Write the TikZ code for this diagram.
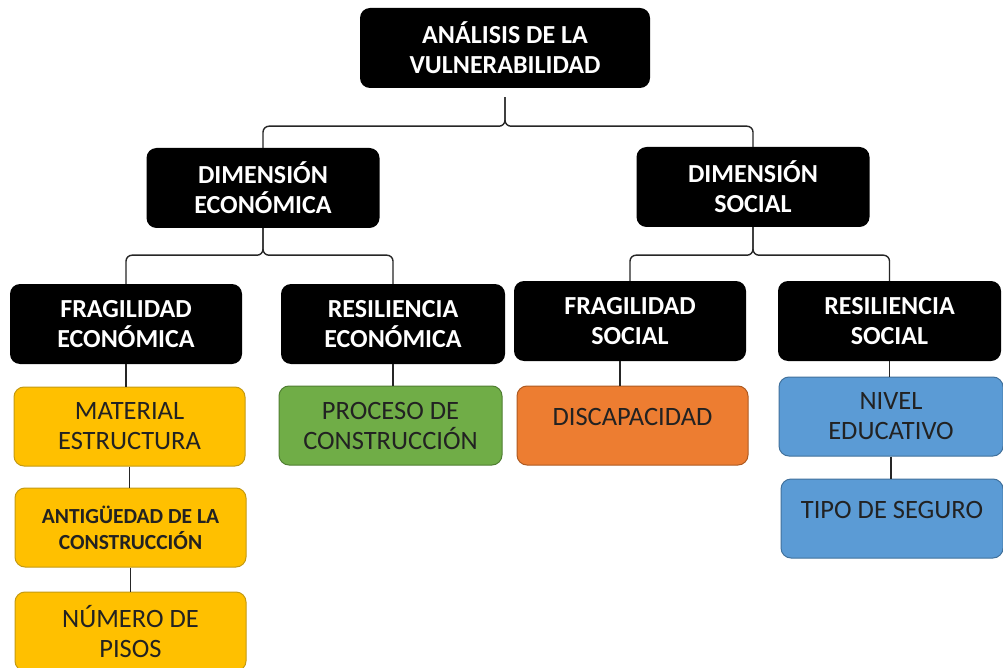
\documentclass[tikz,border=0pt]{standalone}
\usepackage{fontspec}
\setmainfont{Carlito}
\usepackage{tikz}
\usepackage{xcolor}
\definecolor{amarillo}{HTML}{FFC000}
\definecolor{amarilloB}{HTML}{C49A12}
\definecolor{verde}{HTML}{70AD47}
\definecolor{verdeB}{HTML}{507E32}
\definecolor{naranja}{HTML}{ED7D31}
\definecolor{naranjaB}{HTML}{AE5A21}
\definecolor{azul}{HTML}{5B9BD5}
\definecolor{azulB}{HTML}{41719C}
\definecolor{texto}{HTML}{222222}
\newcommand{\llave}[3]{%
  \draw[conector,rounded corners=6pt] (#1) -- ++(0,#3) -| (#2.north);}

\begin{document}
\begin{tikzpicture}[x=1pt,y=-1pt,
  negro/.style={fill=black,text=white,font=\bfseries\fontsize{26}{30}\selectfont,
    rounded corners=10pt,minimum width=232pt,minimum height=80pt,align=center,inner sep=0pt},
  caja/.style={rounded corners=10pt,minimum width=231pt,minimum height=79pt,align=center,
    inner sep=0pt,text=texto,font=\fontsize{26.5}{30}\selectfont,line width=1pt},
  conector/.style={line width=1.4pt,draw=black!85}]
  \useasboundingbox[fill=white] (0,0) rectangle (1003,668);
  % black boxes
  \node[negro,minimum width=290pt] (raiz) at (505,48) {ANÁLISIS DE LA\\VULNERABILIDAD};
  \node[negro,minimum width=233pt] (dimE) at (263,188) {DIMENSIÓN\\ECONÓMICA};
  \node[negro,minimum width=233pt] (dimS) at (753,187) {DIMENSIÓN\\SOCIAL};
  \node[negro] (fragE) at (126,324) {FRAGILIDAD\\ECONÓMICA};
  \node[negro,minimum width=224pt] (resE) at (393,324) {RESILIENCIA\\ECONÓMICA};
  \node[negro] (fragS) at (630,321) {FRAGILIDAD\\SOCIAL};
  \node[negro,minimum width=223pt] (resS) at (889.5,321) {RESILIENCIA\\SOCIAL};
  % coloured boxes
  \node[caja,fill=amarillo,draw=amarilloB] (mat) at (129.5,426.5) {MATERIAL\\ESTRUCTURA};
  \node[caja,fill=amarillo,draw=amarilloB,font=\bfseries\fontsize{21.5}{26}\selectfont] (ant) at (130.5,527.5) {ANTIGÜEDAD DE LA\\CONSTRUCCIÓN};
  \node[caja,fill=amarillo,draw=amarilloB] (num) at (130.5,631.5) {NÚMERO DE\\PISOS};
  \node[caja,fill=verde,draw=verdeB,minimum width=223pt] (proc) at (390.5,425.5) {PROCESO DE\\CONSTRUCCIÓN};
  \node[caja,fill=naranja,draw=naranjaB] (disc) at (632.5,425.5) {DISCAPACIDAD\\[-12pt]~};
  \node[caja,fill=azul,draw=azulB,minimum width=224pt] (niv) at (891,416.5) {NIVEL\\EDUCATIVO};
  \node[caja,fill=azul,draw=azulB,minimum width=222pt] (tipo) at (892,518.5) {TIPO DE SEGURO\\[-12pt]~};
  % braces
  \llave{[yshift=-9pt]raiz.south}{dimE}{29}
  \llave{[yshift=-9pt]raiz.south}{dimS}{29}
  \llave{dimE.south}{fragE}{27}
  \llave{dimE.south}{resE}{27}
  \llave{dimS.south}{fragS}{28}
  \llave{dimS.south}{resS}{28}
  % straight links
  \draw[conector] (fragE.south) -- (fragE.south |- mat.north);
  \draw[conector] (mat.south) -- (mat.south |- ant.north);
  \draw[conector] (ant.south) -- (ant.south |- num.north);
  \draw[conector] (resE.south) -- (resE.south |- proc.north);
  \draw[conector] ([xshift=-10pt]fragS.south) -- ([xshift=-10pt]fragS.south |- disc.north);
  \draw[conector] (resS.south) -- (resS.south |- niv.north);
  \draw[conector] (niv.south) -- (niv.south |- tipo.north);
\end{tikzpicture}
\end{document}
